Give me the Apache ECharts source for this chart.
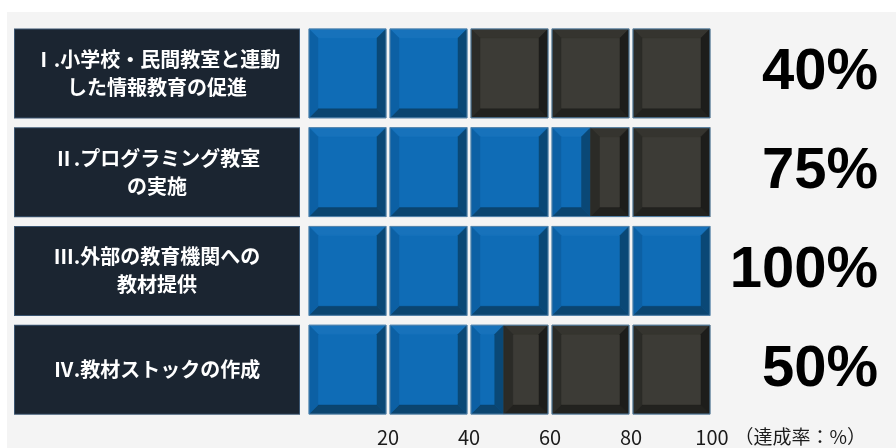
<!DOCTYPE html>
<html>
<head>
<meta charset="utf-8">
<script src="https://cdn.jsdelivr.net/npm/echarts@6/dist/echarts.min.js"></script>
<style>
  html, body { margin: 0; padding: 0; background: #ffffff; }
  #chart { position: absolute; left: 7px; top: 12px; width: 889px; height: 436px; }
</style>
</head>
<body>
<div id="chart"></div>
<script>
// 項目名（左の見出し）
const categories = [
  'Ⅰ.小学校・民間教室と連動\nした情報教育の促進',
  'Ⅱ.プログラミング教室\nの実施',
  'Ⅲ.外部の教育機関への\n教材提供',
  'Ⅳ.教材ストックの作成'
];
// ブロックの塗りつぶし位置
const fillValues = [40, 70, 100, 48.5];
// 右側の達成率表示
const pctLabels = ['40%', '75%', '100%', '50%'];
// ブロックの区切り（20%ごと）
const blockEdges = [0, 20, 40, 60, 80, 100];
const tickLabels = ['', '20', '40', '60', '80', '100'];

const BLUE = { front: '#0f6cb6', top: '#1772bb', left: '#0c60a4', right: '#0a4876', bottom: '#0b4570' };
const GRAY = { front: '#3c3b36', top: '#35342f', left: '#2b2b27', right: '#1d1d1b', bottom: '#22221f' };

// 面取り風のブロックを描く
function bevel(x, y, w, h, c) {
  const b = Math.min(9, w / 2, h / 2);
  const poly = (pts, color) => ({
    type: 'polygon',
    shape: { points: pts },
    style: { fill: color, stroke: color, lineWidth: 0.5 }
  });
  return [
    { type: 'rect', shape: { x, y, width: w, height: h }, style: { fill: c.front } },
    poly([[x, y], [x + w, y], [x + w - b, y + b], [x + b, y + b]], c.top),
    poly([[x, y + h], [x + w, y + h], [x + w - b, y + h - b], [x + b, y + h - b]], c.bottom),
    poly([[x, y], [x + b, y + b], [x + b, y + h - b], [x, y + h]], c.left),
    poly([[x + w, y], [x + w - b, y + b], [x + w - b, y + h - b], [x + w, y + h]], c.right)
  ];
}

const blockData = [];
categories.forEach((_, i) => {
  for (let k = 0; k < blockEdges.length - 1; k++) {
    blockData.push([blockEdges[k], blockEdges[k + 1], i, fillValues[i]]);
  }
});

const chart = echarts.init(document.getElementById('chart'));

const option = {
  backgroundColor: '#f4f4f4',
  animation: false,
  grid: { left: 300, right: 184, top: 12, bottom: 29 },
  xAxis: {
    type: 'value',
    min: 0,
    max: 100,
    interval: 20,
    name: '（達成率：%）',
    nameLocation: 'end',
    nameGap: 19,
    nameTextStyle: {
      color: '#1a1a1a',
      fontSize: 19,
      fontFamily: '"Noto Sans CJK JP", sans-serif',
      verticalAlign: 'top',
      lineHeight: 20,
      padding: [8, 0, 0, 0]
    },
    axisLine: { show: false },
    axisTick: { show: false },
    splitLine: { show: false },
    axisLabel: {
      margin: 8,
      color: '#1a1a1a',
      fontSize: 20,
      fontFamily: '"Noto Sans CJK JP", sans-serif',
      formatter: (v) => tickLabels[Math.round(v / 20)]
    }
  },
  yAxis: [
    {
      type: 'category',
      data: categories,
      inverse: true,
      axisLine: { show: false },
      axisTick: { show: false },
      axisLabel: {
        align: 'center',
        margin: 150,
        width: 284,
        height: 88,
        lineHeight: 28,
        color: '#ffffff',
        fontSize: 20,
        fontWeight: 'bold',
        fontFamily: '"Noto Sans CJK JP", sans-serif',
        backgroundColor: '#1b2531',
        borderColor: '#3b5570',
        borderWidth: 1
      }
    },
    {
      type: 'category',
      data: categories,
      inverse: true,
      position: 'right',
      axisLine: { show: false },
      axisTick: { show: false },
      axisLabel: {
        align: 'right',
        margin: 166,
        color: '#000000',
        fontSize: 58,
        fontWeight: 'bold',
        fontFamily: 'Arial, "Liberation Sans", sans-serif',
        formatter: (v, i) => pctLabels[i]
      }
    }
  ],
  series: [
    {
      type: 'custom',
      silent: true,
      data: blockData,
      encode: { x: [0, 1], y: 2 },
      renderItem(params, api) {
        const v0 = api.value(0);
        const v1 = api.value(1);
        const row = api.value(2);
        const val = api.value(3);
        const p0 = api.coord([v0, row]);
        const p1 = api.coord([v1, row]);
        const h = api.size([0, 1])[1] * 0.9;
        const x0 = p0[0] + 2;
        const x1 = p1[0] - 2;
        const y0 = p0[1] - h / 2;
        const f = Math.max(0, Math.min(1, (val - v0) / (v1 - v0)));
        const split = x0 + (x1 - x0) * f;
        let children = [];
        if (split > x0) children = children.concat(bevel(x0, y0, split - x0, h, BLUE));
        if (split < x1) children = children.concat(bevel(split, y0, x1 - split, h, GRAY));
        children.push({
          type: 'rect',
          shape: { x: x0, y: y0, width: x1 - x0, height: h },
          style: { fill: 'none', stroke: '#5584ab', lineWidth: 1 }
        });
        return { type: 'group', children };
      }
    }
  ]
};

chart.setOption(option);
window.addEventListener('resize', () => chart.resize());
</script>
</body>
</html>
